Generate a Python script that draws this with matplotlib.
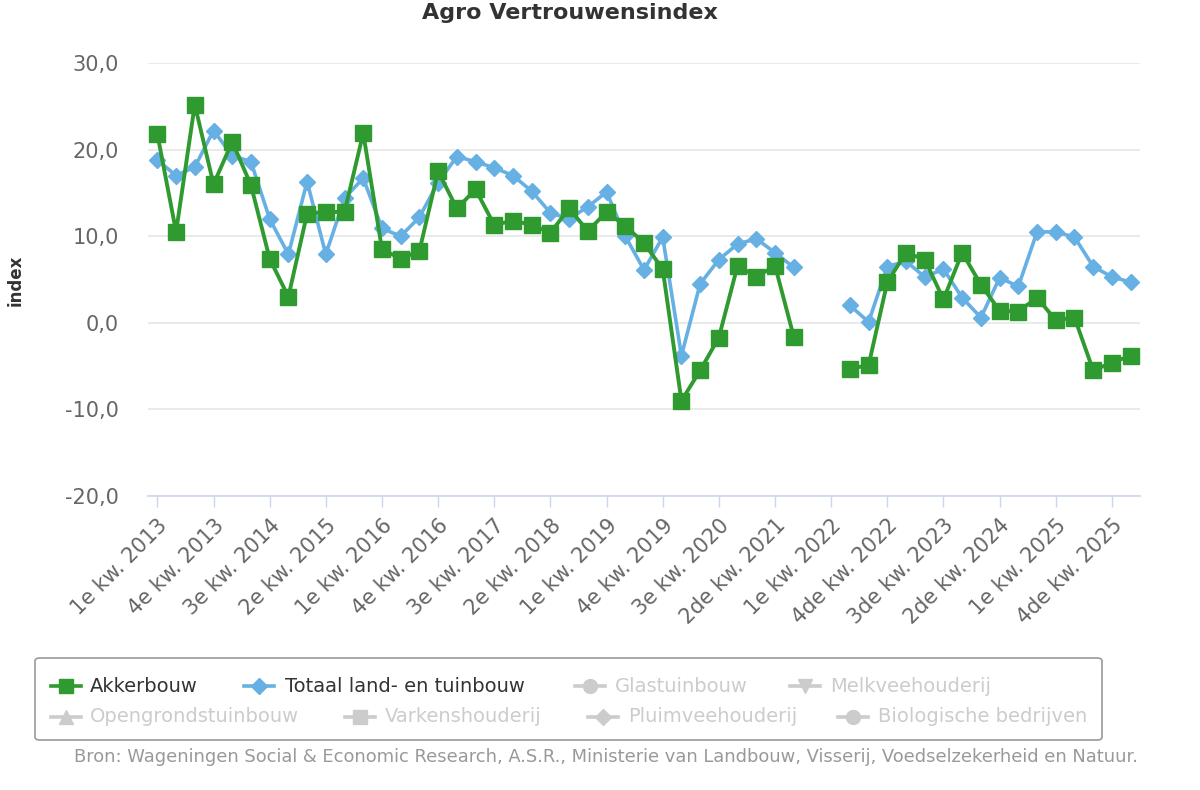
import numpy as np
import matplotlib
matplotlib.use("Agg")
import matplotlib.pyplot as plt
from matplotlib.lines import Line2D
from matplotlib.patches import FancyBboxPatch
from matplotlib.ticker import FuncFormatter

# kwartalen 1e kw. 2013 t/m 1e kw. 2026, None = geen meting
akkerbouw = [21.8, 10.5, 25.2, 16.0, 20.9, 15.9, 7.4, 3.0, 12.6, 12.8,
             12.8, 21.9, 8.5, 7.4, 8.3, 17.5, 13.2, 15.4, 11.3, 11.8,
             11.3, 10.4, 13.2, 10.6, 12.8, 11.2, 9.2, 6.2, -9.0, -5.5,
             -1.7, 6.6, 5.3, 6.6, -1.6, None, None, -5.3, -4.9, 4.7,
             8.1, 7.3, 2.7, 8.1, 4.4, 1.4, 1.3, 2.9, 0.3, 0.6,
             -5.5, -4.6, -3.8]
totaal = [18.8, 17.0, 18.0, 22.2, 19.3, 18.6, 12.0, 7.9, 16.3, 7.9,
          14.4, 16.7, 10.9, 10.0, 12.2, 16.2, 19.2, 18.6, 17.9, 17.0,
          15.2, 12.7, 12.0, 13.4, 15.1, 10.0, 6.1, 9.9, -3.8, 4.5,
          7.3, 9.1, 9.7, 8.1, 6.4, None, None, 2.0, 0.1, 6.5,
          7.1, 5.3, 6.2, 2.9, 0.6, 5.2, 4.2, 10.5, 10.5, 9.9,
          6.5, 5.3, 4.7]

tick_labels = ["1e kw. 2013", "4e kw. 2013", "3e kw. 2014", "2e kw. 2015",
               "1e kw. 2016", "4e kw. 2016", "3e kw. 2017", "2e kw. 2018",
               "1e kw. 2019", "4e kw. 2019", "3e kw. 2020", "2de kw. 2021",
               "1e kw. 2022", "4de kw. 2022", "3de kw. 2023", "2de kw. 2024",
               "1e kw. 2025", "4de kw. 2025"]

yticks = [-20, -10, 0, 10, 20, 30]

legend_items = [
    # (naam, marker, kleur, tekstkleur, rij, x-marker, x-tekst)
    ("Akkerbouw", "s", "#2f9a2f", "#333333", 0, 66, 90),
    ("Totaal land- en tuinbouw", "D", "#66b0e3", "#333333", 0, 259, 285),
    ("Glastuinbouw", "o", "#cccccc", "#cccccc", 0, 590, 615),
    ("Melkveehouderij", "v", "#cccccc", "#cccccc", 0, 805, 830),
    ("Opengrondstuinbouw", "^", "#cccccc", "#cccccc", 1, 66, 90),
    ("Varkenshouderij", "s", "#cccccc", "#cccccc", 1, 360, 385),
    ("Pluimveehouderij", "D", "#cccccc", "#cccccc", 1, 603, 628),
    ("Biologische bedrijven", "o", "#cccccc", "#cccccc", 1, 853, 878),
]

W, H = 1200, 790
fig = plt.figure(figsize=(12, 7.9), dpi=100)
ax = fig.add_axes([148 / W, 1 - 496 / H, (1140 - 148) / W, (496 - 63) / H])

x = np.arange(len(akkerbouw))
a = np.array([np.nan if v is None else v for v in akkerbouw])
t = np.array([np.nan if v is None else v for v in totaal])

ax.plot(x, t, color="#66b0e3", lw=2.6, marker="D", ms=8.5, zorder=3)
ax.plot(x, a, color="#2f9a2f", lw=2.8, marker="s", ms=11, zorder=4)

ax.set_xlim(-0.5, len(x) - 0.5)
ax.set_ylim(-20, 30)
ax.set_yticks(yticks)
ax.yaxis.set_major_formatter(FuncFormatter(lambda v, p: f"{v:.1f}".replace(".", ",")))
ax.grid(axis="y", color="#e6e6e6", lw=1.2)
ax.set_axisbelow(True)
ax.tick_params(axis="y", length=0, pad=21, labelsize=15, labelcolor="#666666")

ax.set_xticks(x[::3])
ax.set_xticklabels(tick_labels, rotation=45, ha="right", rotation_mode="anchor")
ax.tick_params(axis="x", length=8, width=1, color="#ccd6eb", pad=6,
               labelsize=15, labelcolor="#666666")

for s in ["top", "right", "left"]:
    ax.spines[s].set_visible(False)
ax.spines["bottom"].set_color("#ccd6eb")
ax.spines["bottom"].set_linewidth(1.2)

fig.text(16 / W, 1 - 280 / H, "index", rotation=90, ha="center", va="center",
         fontsize=12, fontweight="bold", color="#333333")
fig.text(570 / W, 1 - 13 / H, "Agro Vertrouwensindex", ha="center", va="center",
         fontsize=16, fontweight="bold", color="#333333")

# legenda
box = FancyBboxPatch((35 / W, 1 - 740 / H), (1102 - 35) / W, (740 - 658) / H,
                     boxstyle="round,pad=0,rounding_size=0.004",
                     transform=fig.transFigure, fc="white", ec="#999999", lw=1.2)
fig.add_artist(box)
for name, mk, col, tcol, row, xm, xt in legend_items:
    yy = 1 - (686 + row * 31) / H
    fig.add_artist(Line2D([(xm - 15) / W, (xm + 15) / W], [yy, yy], color=col, lw=2.6,
                          transform=fig.transFigure))
    fig.add_artist(Line2D([xm / W], [yy], marker=mk, color=col,
                          ms=10 if mk != "D" else 8, transform=fig.transFigure))
    fig.text(xt / W, yy, name, ha="left", va="center", fontsize=14, color=tcol)

fig.text(1138 / W, 1 - 757 / H,
         "Bron: Wageningen Social & Economic Research, A.S.R., Ministerie van Landbouw, "
         "Visserij, Voedselzekerheid en Natuur.",
         ha="right", va="center", fontsize=12.9, color="#999999")

fig.savefig("out.png", dpi=100, facecolor="white")
